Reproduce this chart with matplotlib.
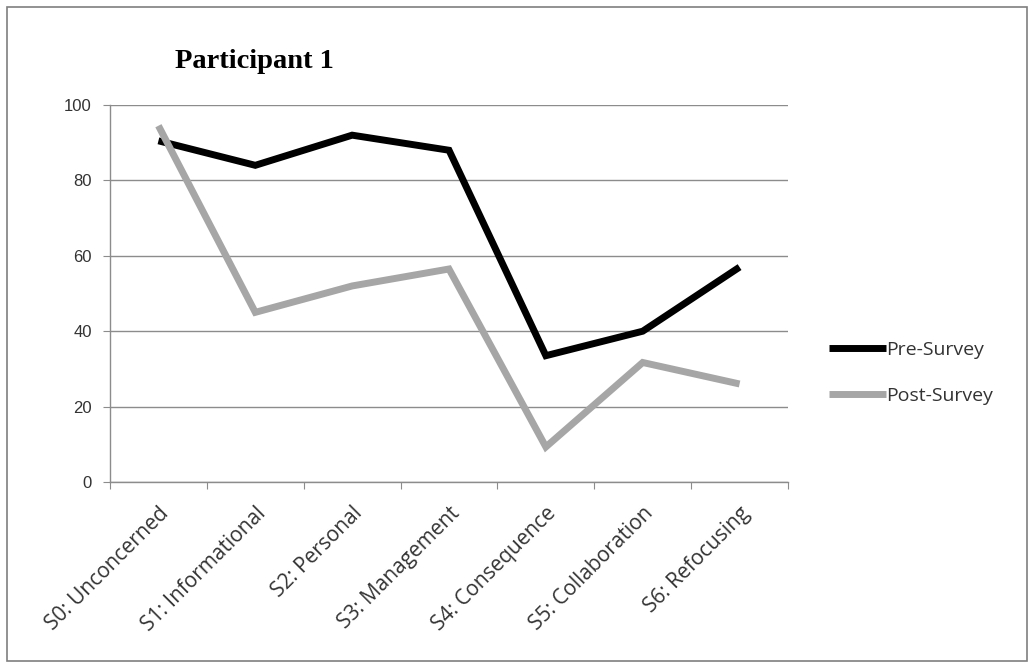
import matplotlib
matplotlib.use("Agg")
import matplotlib.pyplot as plt
from matplotlib.patches import Rectangle

# data
stages = ["S0: Unconcerned", "S1: Informational", "S2: Personal", "S3: Management",
          "S4: Consequence", "S5: Collaboration", "S6: Refocusing"]
pre_survey = [90.5, 84, 92, 88, 33.5, 40, 57]
post_survey = [94.5, 45, 52, 56.5, 9.3, 31.7, 26]
y_ticks = [0, 20, 40, 60, 80, 100]

grid_col = "#8c8c8c"
text_col = "#333333"

fig = plt.figure(figsize=(10.34, 6.63), dpi=100)
ax = fig.add_axes([110 / 1034, 1 - 482 / 663, (788 - 110) / 1034, (482 - 105) / 663])

xs = [i + 0.5 for i in range(len(stages))]
ax.plot(xs, pre_survey, color="black", lw=5, solid_joinstyle="miter",
        solid_capstyle="butt", label="Pre-Survey", zorder=3)
ax.plot(xs, post_survey, color="#a6a6a6", lw=5, solid_joinstyle="miter",
        solid_capstyle="butt", label="Post-Survey", zorder=3)

ax.set_xlim(0, len(stages))
ax.set_ylim(0, 100)
ax.set_yticks(y_ticks)
ax.set_xticks(range(len(stages) + 1))
ax.set_xticklabels([])
ax.set_xticks(xs, minor=True)
ax.set_xticklabels(stages, minor=True, rotation=45, ha="right", va="top",
                   rotation_mode="anchor", fontsize=15, family="Open Sans",
                   color=text_col)
ax.tick_params(axis="x", which="minor", length=0, pad=15)
ax.tick_params(axis="x", which="major", length=5, color=grid_col, direction="out")
ax.tick_params(axis="y", length=5, color=grid_col, direction="out", pad=8,
               labelsize=12, labelcolor=text_col)
for lab in ax.get_yticklabels():
    lab.set_family("Liberation Sans")

ax.grid(axis="y", color=grid_col, lw=1.0)
ax.set_axisbelow(True)
for s in ["top", "right"]:
    ax.spines[s].set_visible(False)
for s in ["left", "bottom"]:
    ax.spines[s].set_color(grid_col)
    ax.spines[s].set_linewidth(1.0)

leg = ax.legend(loc="center left", bbox_to_anchor=(1.035, 0.29), frameon=False,
                handlelength=2.9, handletextpad=0.05, labelspacing=1.45,
                prop={"family": "Open Sans", "size": 14})
for t in leg.get_texts():
    t.set_color(text_col)

fig.text(254 / 1034, 1 - 62 / 663, "Participant 1", ha="center", va="center",
         fontsize=20.5, fontweight="bold", family="Liberation Serif")

fig.patches.append(Rectangle((7 / 1034, 2 / 663), 1 - 14 / 1034, 1 - 9 / 663,
                             transform=fig.transFigure, fill=False,
                             edgecolor="#7f7f7f", lw=1.2))

fig.savefig("out.png", dpi=100)
